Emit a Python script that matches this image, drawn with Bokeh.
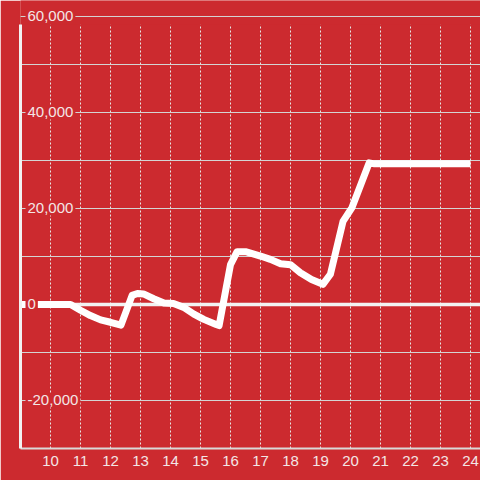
from bokeh.plotting import figure
from bokeh.models import (ColumnDataSource, FixedTicker, Span, Range1d,
                          BoxAnnotation, Label)
from bokeh.embed import file_html
from bokeh.resources import INLINE

# ---- data ----
hours = [8.9, 10.0, 10.67, 11.0, 11.33, 11.67, 12.0, 12.35, 12.72, 12.9, 13.1,
         13.44, 13.78, 14.1, 14.44, 14.78, 15.11, 15.5, 15.62, 16.0, 16.22,
         16.5, 16.67, 17.0, 17.33, 17.67, 18.0, 18.33, 18.7, 19.08, 19.33,
         19.75, 20.05, 20.62, 20.8, 22.0, 24.0]
values = [0, 0, 0, -1200, -2300, -3200, -3700, -4300, 1900, 2300, 2200,
          1200, 300, 200, -600, -2000, -3100, -4100, -4400, 8300, 11000,
          11000, 10700, 10100, 9400, 8500, 8300, 6600, 5200, 4200, 6300,
          17300, 20200, 29500, 29300, 29300, 29300]

x_ticks = list(range(10, 25))
y_grid_values = list(range(-30000, 60001, 10000))
y_label_values = [60000, 40000, 20000, 0, -20000]
y_label_texts = ["60,000", "40,000", "20,000", "0", "-20,000"]

RED = "#cc2a2f"
LABEL = "#f3e6e6"
FONT = "Liberation Sans"

# frame spans the whole top; 60,000 sits 16px below the top edge
p = figure(width=480, height=480, output_backend="svg", toolbar_location=None,
           x_range=Range1d(9.0, 24.3333), y_range=Range1d(-30000, 63333),
           min_border_left=20, min_border_right=0,
           min_border_top=0, min_border_bottom=32,
           background_fill_color=RED, border_fill_color=RED,
           outline_line_color=None)

# x axis
p.xaxis.ticker = FixedTicker(ticks=x_ticks)
p.xaxis.axis_line_color = "#d9d9d9"
p.xaxis.axis_line_width = 2
p.xaxis.major_tick_line_color = None
p.xaxis.minor_tick_line_color = None
p.xaxis.major_tick_out = 0
p.xaxis.major_label_standoff = 7
p.xaxis.major_label_text_font = FONT
p.xaxis.major_label_text_font_size = "15px"
p.xaxis.major_label_text_color = LABEL

# y axis: only its line
p.yaxis.bounds = (-30000, 58300)
p.yaxis.axis_line_color = "#f2f2f2"
p.yaxis.axis_line_width = 3
p.yaxis.major_tick_line_color = None
p.yaxis.minor_tick_line_color = None
p.yaxis.major_tick_out = 0
p.yaxis.major_label_text_font_size = "0px"
p.yaxis.major_label_text_alpha = 0

# grids
p.xgrid.grid_line_color = "#e6e6e6"
p.xgrid.grid_line_dash = "2 2"
p.xgrid.grid_line_width = 1
p.ygrid.ticker = FixedTicker(ticks=y_grid_values)
p.ygrid.grid_line_color = "#d4d4d4"
p.ygrid.grid_line_width = 1

# keep the dotted verticals off the top strip, redraw the top grid line
p.add_layout(BoxAnnotation(bottom=58300, fill_color=RED, fill_alpha=1.0,
                           line_color=None, level="underlay"))
p.add_layout(Span(location=y_grid_values[-1], dimension="width",
                  line_color="#d4d4d4", line_width=1, level="underlay"))
# zero line
p.add_layout(Span(location=0, dimension="width", line_color="#f2f2f2",
                  line_width=3.5, level="underlay"))

# data line
src = ColumnDataSource(dict(x=hours, y=values))
p.line("x", "y", source=src, line_color="white", line_width=7,
       line_join="round", line_cap="butt")

# y labels with background boxes
for v, t in zip(y_label_values, y_label_texts):
    p.add_layout(Label(x=5, y=v, x_units="screen", text=t,
                       text_align="left", text_baseline="middle",
                       text_font=FONT, text_font_size="15px",
                       text_color=LABEL, background_fill_color=RED,
                       padding=2))

open("out.html", "w").write(file_html(p, INLINE))
